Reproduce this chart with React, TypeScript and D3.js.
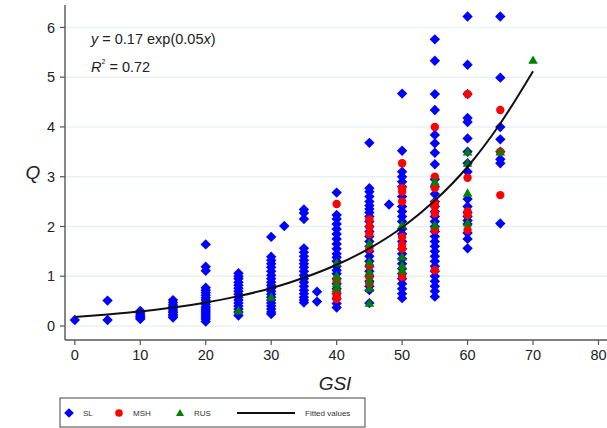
import React from "react";
import * as d3 from "d3";

// ---- data (GSI column, Q values) ----
const slData: [number, number[]][] = [
  [0, [0.12]],
  [5, [0.51, 0.12]],
  [10, [0.3, 0.26, 0.22, 0.19, 0.16, 0.14]],
  [15, [0.52, 0.47, 0.42, 0.38, 0.34, 0.3, 0.27, 0.23, 0.2, 0.17]],
  [20, [1.64, 1.19, 1.11, 0.77, 0.72, 0.67, 0.62, 0.57, 0.52, 0.47, 0.43, 0.38, 0.34, 0.3, 0.26, 0.22, 0.18, 0.14, 0.09]],
  [25, [1.06, 1.0, 0.95, 0.88, 0.82, 0.76, 0.7, 0.64, 0.58, 0.52, 0.46, 0.4, 0.34, 0.28, 0.21]],
  [30, [1.79, 1.39, 1.32, 1.25, 1.18, 1.1, 1.02, 0.95, 0.88, 0.82, 0.76, 0.7, 0.64, 0.58, 0.52, 0.46, 0.4, 0.34, 0.28, 0.24]],
  [32, [2.01]],
  [35, [2.34, 2.27, 2.15, 1.56, 1.48, 1.4, 1.32, 1.25, 1.18, 1.1, 1.02, 0.95, 0.88, 0.8, 0.72, 0.65, 0.58, 0.52, 0.47]],
  [37, [0.69, 0.49]],
  [40, [2.68, 2.23, 2.15, 2.05, 1.95, 1.85, 1.75, 1.65, 1.55, 1.45, 1.38, 1.3, 1.2, 1.12, 1.05, 0.95, 0.85, 0.75, 0.65, 0.55, 0.45, 0.37]],
  [45, [3.68, 2.77, 2.7, 2.6, 2.5, 2.42, 2.35, 2.28, 2.2, 2.1, 2.0, 1.9, 1.8, 1.7, 1.6, 1.5, 1.4, 1.3, 1.2, 1.1, 1.0, 0.9, 0.8, 0.72, 0.46]],
  [48, [2.44]],
  [50, [4.67, 3.52, 3.1, 3.0, 2.9, 2.8, 2.6, 2.4, 2.3, 2.2, 2.1, 1.95, 1.85, 1.7, 1.55, 1.45, 1.35, 1.25, 1.15, 1.05, 0.95, 0.85, 0.75, 0.65, 0.56]],
  [55, [5.76, 5.33, 4.66, 4.34, 3.84, 3.67, 3.48, 3.25, 2.95, 2.8, 2.65, 2.5, 2.4, 2.3, 2.2, 2.1, 2.0, 1.9, 1.8, 1.7, 1.6, 1.5, 1.4, 1.3, 1.2, 1.1, 1.0, 0.9, 0.8, 0.7, 0.59]],
  [60, [6.22, 5.25, 4.66, 4.18, 4.1, 3.77, 3.5, 3.27, 3.1, 2.55, 2.4, 2.28, 2.2, 2.12, 2.05, 1.87, 1.75, 1.56]],
  [65, [6.22, 4.99, 4.0, 3.75, 3.5, 3.35, 3.27, 2.06]],
];

const mshData: [number, number[]][] = [
  [40, [2.45, 0.9, 0.7, 0.64, 0.58, 0.54]],
  [45, [2.14, 1.99, 1.85, 1.55, 1.2, 0.98, 0.85]],
  [50, [3.27, 2.77, 2.7, 2.5, 1.79, 1.63, 1.55, 0.99]],
  [55, [4.0, 3.0, 2.77, 2.47, 2.4, 2.26, 1.93, 1.12]],
  [60, [4.66, 2.98, 2.3, 2.23, 1.93]],
  [65, [4.34, 3.5, 2.63]],
];

const rusData: [number, number[]][] = [
  [25, [0.31]],
  [30, [0.58]],
  [40, [1.27, 1.01, 0.86, 0.76]],
  [45, [1.66, 1.29, 1.09, 0.92, 0.76, 0.46]],
  [50, [2.03, 1.39, 1.22, 1.12]],
  [55, [2.9, 2.03]],
  [60, [3.5, 3.27, 2.67, 2.07]],
  [65, [3.5]],
  [70, [5.34]],
];

// fitted values
const fitGSI = [0, 5, 10, 15, 20, 25, 30, 35, 40, 45, 50, 55, 60, 65, 70];
const fitQ = [0.18, 0.23, 0.29, 0.37, 0.47, 0.6, 0.76, 0.97, 1.23, 1.56, 1.98, 2.52, 3.2, 4.07, 5.12];

const xTicks = [0, 10, 20, 30, 40, 50, 60, 70, 80];
const yTicks = [0, 1, 2, 3, 4, 5, 6];

const flat = (d: [number, number[]][]) => d.flatMap(([x, vs]) => vs.map((v) => [x, v] as [number, number]));

const FONT = "'Liberation Sans', Arial, sans-serif";
const BLUE = "#0000ff";
const RED = "#ff0000";
const GREEN = "#008000";

export default function App() {
  const W = 607;
  const H = 428;
  const x = d3.scaleLinear().domain([-1.5, 81.3]).range([65, 607]);
  const y = d3.scaleLinear().domain([0, 6.45]).range([326, 5]);

  const diamond = (cx: number, cy: number, r = 5.2) => `M${cx},${cy - r}L${cx + r},${cy}L${cx},${cy + r}L${cx - r},${cy}Z`;
  const tri = (cx: number, cy: number, s = 4.8) => `M${cx},${cy - s}L${cx + s},${cy + s * 0.75}L${cx - s},${cy + s * 0.75}Z`;

  const line = d3
    .line<number>()
    .x((_, i) => x(fitGSI[i]))
    .y((d) => y(d))
    .curve(d3.curveMonotoneX);

  return (
    <svg width={W} height={H} style={{ position: "absolute", left: 0, top: 0, background: "#fff" }}>
      <rect x={0} y={0} width={W} height={H} fill="#fff" />
      {/* gridlines */}
      {yTicks.map((t) => (
        <line key={"g" + t} x1={66} x2={607} y1={y(t)} y2={y(t)} stroke="#eaf1f3" strokeWidth={1.5} />
      ))}
      {/* axes */}
      <line x1={65} x2={65} y1={5} y2={340} stroke="#555" strokeWidth={1.4} />
      <line x1={65} x2={607} y1={340} y2={340} stroke="#555" strokeWidth={1.4} />
      {yTicks.map((t) => (
        <g key={"yt" + t}>
          <line x1={60} x2={65} y1={y(t)} y2={y(t)} stroke="#555" strokeWidth={1.2} />
          <text x={55} y={y(t)} dy="0.36em" textAnchor="end" fontFamily={FONT} fontSize={14.5} fill="#222">
            {t}
          </text>
        </g>
      ))}
      {xTicks.map((t) => (
        <g key={"xt" + t}>
          <line x1={x(t)} x2={x(t)} y1={340} y2={345} stroke="#555" strokeWidth={1.2} />
          <text x={x(t)} y={360} textAnchor="middle" fontFamily={FONT} fontSize={14.5} fill="#222">
            {t}
          </text>
        </g>
      ))}
      <text x={335} y={390} textAnchor="middle" fontFamily={FONT} fontSize={19} fontStyle="italic" fill="#222">
        GSI
      </text>
      <text x={33} y={179} textAnchor="middle" fontFamily={FONT} fontSize={19} fontStyle="italic" fill="#222">
        Q
      </text>

      {/* points */}
      {flat(slData).map(([gx, q], i) => (
        <path key={"sl" + i} d={diamond(x(gx), y(q))} fill={BLUE} />
      ))}
      {flat(mshData).map(([gx, q], i) => (
        <circle key={"m" + i} cx={x(gx)} cy={y(q)} r={4.2} fill={RED} />
      ))}
      {flat(rusData).map(([gx, q], i) => (
        <path key={"r" + i} d={tri(x(gx), y(q))} fill={GREEN} />
      ))}
      <path d={line(fitQ) || ""} fill="none" stroke="#111" strokeWidth={2} />

      {/* annotation */}
      <text x={91} y={44} fontFamily={FONT} fontSize={14.5} fill="#222">
        <tspan fontStyle="italic">y</tspan> = 0.17 exp(0.05<tspan fontStyle="italic">x</tspan>)
      </text>
      <text x={91} y={72} fontFamily={FONT} fontSize={14.5} fill="#222">
        <tspan fontStyle="italic">R</tspan>
        <tspan fontSize={7} dy={-8}>2</tspan>
        <tspan dy={8}> = 0.72</tspan>
      </text>

      {/* legend */}
      <rect x={60} y={398} width={305} height={29} fill="#fff" stroke="#444" strokeWidth={1} />
      <path d={diamond(69, 413, 4.8)} fill={BLUE} />
      <text x={83} y={416} fontFamily={FONT} fontSize={8} fill="#333">SL</text>
      <circle cx={119} cy={413} r={3.8} fill={RED} />
      <text x={133} y={416} fontFamily={FONT} fontSize={8} fill="#333">MSH</text>
      <path d={tri(180, 413, 4)} fill={GREEN} />
      <text x={194} y={416} fontFamily={FONT} fontSize={8} fill="#333">RUS</text>
      <line x1={237} x2={295} y1={413} y2={413} stroke="#111" strokeWidth={2} />
      <text x={305} y={416} fontFamily={FONT} fontSize={8} fill="#333">Fitted values</text>
    </svg>
  );
}
